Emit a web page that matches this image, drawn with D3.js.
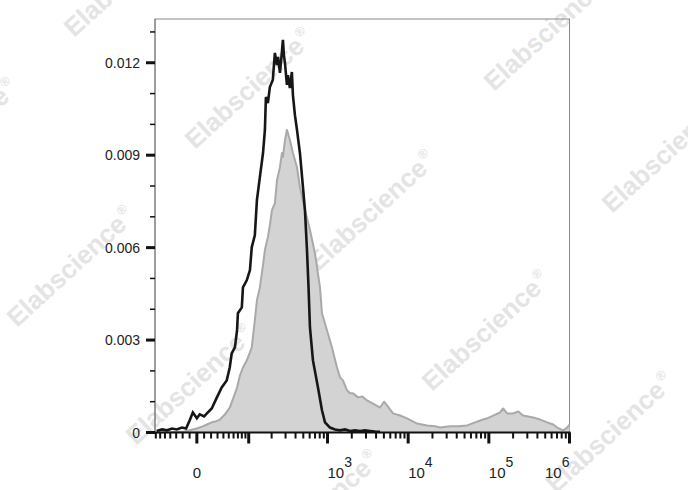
<!DOCTYPE html>
<html>
<head>
<meta charset="utf-8">
<script src="https://cdn.jsdelivr.net/npm/d3@7"></script>
<style>
  html, body { margin: 0; padding: 0; background: #fff; }
  svg { display: block; font-family: Arial, "Liberation Sans", sans-serif; }
</style>
</head>
<body>
<svg id="chart" width="688" height="490"></svg>
<script>
// ---- data (fluorescence intensity vs. normalized event density) ----
const grayX = [-68, -32, -17, -10, 0, 8, 14, 21, 27, 34, 43, 52, 59, 68, 75, 83, 94, 104, 110, 121, 129, 141, 155, 164, 179, 190, 202, 220, 234, 255, 270, 278, 295, 312, 321, 340, 371, 417, 454, 524, 605, 698, 806, 853, 984, 1136, 1310, 1428, 1555, 1743, 1900, 2070, 2386, 2700, 3090, 3666, 4480, 5016, 5470, 6480, 7920, 9680, 12870, 17130, 21540, 24870, 33100, 41500, 53700, 67600, 78100, 95400, 112900, 138000, 150300, 168300, 200000, 231500, 266000, 354000, 432800, 528600, 627000, 703000, 834500, 936000, 1000000];
const grayY = [0, 0.00002, 0.00003, 0.00007, 0.00013, 0.0002, 0.00026, 0.00033, 0.00036, 0.00042, 0.00059, 0.00081, 0.0011, 0.00146, 0.00185, 0.00211, 0.00234, 0.0026, 0.00276, 0.00364, 0.00429, 0.00471, 0.00543, 0.00592, 0.00634, 0.00673, 0.00722, 0.00744, 0.00819, 0.00861, 0.00907, 0.00894, 0.00949, 0.00982, 0.00972, 0.00949, 0.00907, 0.00861, 0.00796, 0.00722, 0.00657, 0.00582, 0.00471, 0.00387, 0.00332, 0.00276, 0.00211, 0.00179, 0.00169, 0.00137, 0.00127, 0.00127, 0.00114, 0.00117, 0.00104, 0.00094, 0.00081, 0.001, 0.00088, 0.00062, 0.00055, 0.00046, 0.00029, 0.00023, 0.0002, 0.00016, 0.0002, 0.0002, 0.00023, 0.00033, 0.00039, 0.00046, 0.00055, 0.00065, 0.00078, 0.00062, 0.00062, 0.00068, 0.00055, 0.00049, 0.00042, 0.00033, 0.00026, 0.00016, 0.00007, 0.00016, 0.00026];

const blackX = [-68, -56, -46, -37, -29, -21, -15, -10, -5.5, 0, 4, 10, 14, 21, 29, 37, 46, 52, 56, 63, 68, 70, 80, 83, 94, 104, 110, 121, 129, 141, 155, 164, 169, 179, 190, 207, 220, 234, 241, 255, 270, 278, 286, 295, 312, 321, 340, 360, 371, 393, 417, 454, 495, 524, 555, 580, 605, 659, 761, 853, 930, 1073, 1238, 1428, 1647, 1900, 2190, 2530, 2916, 3366, 3883, 4480];
const blackY = [0.00005, 0.0001, 0.00007, 0.00013, 0.0001, 0.00016, 0.00013, 0.00039, 0.00065, 0.00046, 0.00059, 0.00052, 0.00062, 0.00078, 0.00114, 0.00146, 0.00169, 0.00211, 0.00257, 0.00276, 0.00332, 0.00387, 0.00406, 0.00471, 0.00494, 0.00527, 0.00601, 0.0064, 0.00754, 0.00829, 0.00907, 0.00982, 0.01089, 0.01069, 0.01121, 0.01144, 0.01232, 0.01193, 0.01219, 0.01167, 0.01235, 0.01274, 0.01225, 0.01199, 0.01128, 0.0116, 0.01118, 0.0117, 0.01095, 0.0103, 0.00982, 0.00907, 0.00796, 0.00722, 0.00594, 0.00475, 0.00341, 0.00234, 0.00146, 0.00072, 0.00033, 0.00016, 0.0001, 0.00007, 0.0001, 0.00005, 0.00007, 0.00005, 0.00007, 0.00005, 0.00003, 0.00002];

const yTickValues = [0, 0.003, 0.006, 0.009, 0.012];
const yTickLabels = ["0", "0.003", "0.006", "0.009", "0.012"];
const yMinorValues = [0.001, 0.002, 0.004, 0.005, 0.007, 0.008, 0.010, 0.011, 0.013];

const xMajorValues = [0, 100, 1e3, 1e4, 1e5, 1e6];
const xMinorValues = [-70, -60, -50, -40, -30, -20, -10, 10, 20, 30, 40, 50, 60, 70, 80, 90,
  200, 300, 400, 500, 600, 700, 800, 900,
  2000, 3000, 4000, 5000, 6000, 7000, 8000, 9000,
  20000, 30000, 40000, 50000, 60000, 70000, 80000, 90000,
  200000, 300000, 400000, 500000, 600000, 700000, 800000, 900000];
const xLabelValues = [0, 1e3, 1e4, 1e5, 1e6];
const xLabelBases = ["0", "10", "10", "10", "10"];
const xLabelExps = ["", "3", "4", "5", "6"];

const watermarkText = "Elabscience";

// ---- layout ----
const svg = d3.select("#chart");
const L = 155, R = 569.5, T = 19, B = 432.5;

// biexponential-like (arcsinh) display transform
const W = 48;
const tf = v => Math.asinh(v / W);
const xLin = d3.scaleLinear().domain([tf(-72), tf(1e6)]).range([L, R]);
const x = v => xLin(tf(v));
const y = d3.scaleLinear().domain([0, 0.01342]).range([B, T]);

// ---- watermarks ----
const wm = svg.append("g").attr("fill", "#e4e4e4").attr("font-weight", "bold").attr("font-size", 26);
const wmPos = [[74, 38], [-100, 200], [195, 150], [494, 92], [17, 328], [318, 272], [612, 214], [432, 392], [136, 446], [556, 494], [262, 572]];
wmPos.forEach(p => {
  const t = wm.append("text").attr("transform", `translate(${p[0]},${p[1]}) rotate(-42.5)`);
  t.append("tspan").text(watermarkText);
  t.append("tspan").attr("font-size", 13).attr("dy", -12).attr("dx", 2).text("®");
});

// ---- frame ----
svg.append("rect").attr("x", L).attr("y", T).attr("width", R - L).attr("height", B - T)
  .attr("fill", "none").attr("stroke", "#8a8a8a").attr("stroke-width", 1);

// ---- gray filled histogram ----
const grayData = grayX.map((v, i) => [v, grayY[i]]);
const area = d3.area().x(d => x(d[0])).y0(y(0)).y1(d => y(d[1])).curve(d3.curveLinear);
const line = d3.line().x(d => x(d[0])).y(d => y(d[1])).curve(d3.curveLinear);
svg.append("path").datum(grayData).attr("d", area).attr("fill", "#d3d3d3");
svg.append("path").datum(grayData).attr("d", line).attr("fill", "none")
  .attr("stroke", "#a9a9a9").attr("stroke-width", 2).attr("stroke-linejoin", "round");

// ---- black histogram ----
const blackData = blackX.map((v, i) => [v, blackY[i]]);
svg.append("path").datum(blackData).attr("d", line).attr("fill", "none")
  .attr("stroke", "#161616").attr("stroke-width", 2.6).attr("stroke-linejoin", "miter");

// ---- y axis ----
const yAxis = svg.append("g");
yAxis.append("line").attr("x1", L).attr("x2", L).attr("y1", T).attr("y2", B)
  .attr("stroke", "#777").attr("stroke-width", 1);
yAxis.selectAll("line.maj").data(yTickValues).join("line").attr("class", "maj")
  .attr("x1", L - 9).attr("x2", L).attr("y1", d => y(d)).attr("y2", d => y(d))
  .attr("stroke", "#111").attr("stroke-width", 3);
yAxis.selectAll("line.min").data(yMinorValues).join("line").attr("class", "min")
  .attr("x1", L - 5).attr("x2", L).attr("y1", d => y(d)).attr("y2", d => y(d))
  .attr("stroke", "#111").attr("stroke-width", 1.5);
yAxis.selectAll("text").data(yTickValues).join("text")
  .attr("x", L - 15).attr("y", d => y(d)).attr("dy", "0.36em")
  .attr("text-anchor", "end").attr("font-size", 14).attr("fill", "#222")
  .text((d, i) => yTickLabels[i]);

// ---- x axis ----
const xAxis = svg.append("g");
xAxis.selectAll("line.min").data(xMinorValues).join("line").attr("class", "min")
  .attr("x1", d => x(d)).attr("x2", d => x(d)).attr("y1", B).attr("y2", B + 6)
  .attr("stroke", "#111").attr("stroke-width", 2);
xAxis.selectAll("line.maj").data(xMajorValues).join("line").attr("class", "maj")
  .attr("x1", d => x(d)).attr("x2", d => x(d)).attr("y1", B).attr("y2", B + 11)
  .attr("stroke", "#111").attr("stroke-width", 3);
xAxis.append("line").attr("x1", L).attr("x2", R + 1).attr("y1", B).attr("y2", B)
  .attr("stroke", "#111").attr("stroke-width", 2.2);

xLabelValues.forEach((v, i) => {
  const px = x(v);
  let anchor = "start";
  if (i === 0) anchor = "middle";
  if (i === xLabelValues.length - 1) anchor = "end";
  const t = xAxis.append("text").attr("x", px).attr("y", 478)
    .attr("text-anchor", anchor).attr("font-size", 15).attr("fill", "#222");
  t.append("tspan").text(xLabelBases[i]);
  if (xLabelExps[i]) t.append("tspan").attr("dy", -11).attr("font-size", 14).text(xLabelExps[i]);
});
</script>
</body>
</html>
